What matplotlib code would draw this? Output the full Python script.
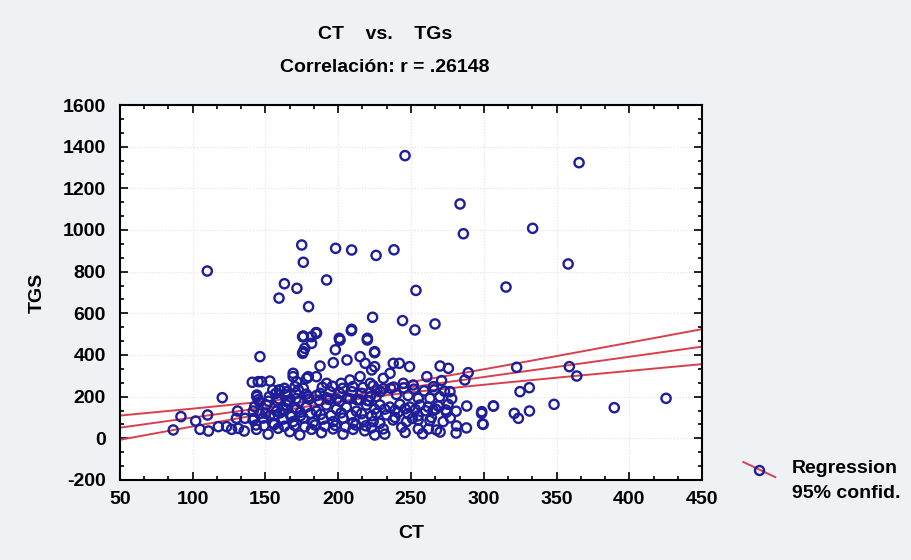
import numpy as np
import matplotlib
matplotlib.use('Agg')
from matplotlib import pyplot as plt
from matplotlib.ticker import MultipleLocator, AutoMinorLocator
from matplotlib.lines import Line2D

plt.rcParams['font.family'] = ['Liberation Sans', 'DejaVu Sans']
plt.rcParams['axes.unicode_minus'] = False

# CT (x) and TGS (y) values
ct = [110, 174.9, 176, 198.2, 209.2, 226, 238.3, 163, 171.6, 192, 159.3,
      245.9, 365.5, 283.7, 333.6, 286, 358, 253.4, 315.3,
      179.6, 223.6, 244.2, 209.2, 184.7, 176, 200.7, 220, 266.5, 252.7, 201.2,
      146.2, 140.9, 145, 144, 120.3, 91.9, 110.2, 102, 130.8, 141.6, 86.6, 105,
      110.8, 117.6, 123.3, 126.7, 131.3, 135.4, 130, 135.9, 143.5, 142,
      147.3, 153, 152.6, 159.5, 169, 170.3, 178.3, 176, 175.5, 181.7, 177,
      175.5, 185,
      176, 185, 181.7, 176, 209, 201, 220, 198, 196.6, 206, 215, 218.5, 225,
      223, 187.5, 185, 179.4, 169, 171.4, 192, 202, 208, 215, 222,
      144, 160, 164.5, 172.6, 179.4, 187.5, 194.3, 201, 209.3, 216, 222, 226.6,
      142.6, 150.7, 157.5, 164.4, 171.3, 178.1, 185, 191.9, 198.8, 205.6,
      212.5, 219.4, 225.1,
      141.5, 148.4, 155.2, 162.1, 169, 175.9, 182.7, 189.6, 196.5, 203.3,
      210.2, 217.1, 224,
      143.8, 151.8, 158.7, 166.7, 173.6, 181.6, 188.5, 196.5, 203.3, 210.2,
      218.2, 225.1,
      146, 153, 160, 167, 174, 181, 188, 195, 202, 209, 216, 223,
      145, 152, 159, 166, 173, 180, 187, 194, 201, 208, 215, 221,
      150, 156, 162, 168, 174, 146, 158, 165, 171, 155, 163,
      225, 249, 270, 275.7, 237.8, 242, 225, 235.6, 231, 244.7, 251.5, 260.9,
      271, 287, 289.3, 265.4, 276.8, 229, 236, 255, 263, 269.8, 278, 226, 240,
      248,
      228.6, 235.4, 242.3, 249.2, 256.1, 261.8, 268.7, 275.5,
      226.3, 233.2, 241.2, 248, 254.9, 265.2, 274.4,
      228.6, 237.7, 246.9, 254.9, 263, 272.1, 281.3, 288.1,
      243.6, 255, 262, 267.5, 299.6, 230.9, 222.8,
      288.3, 298.6, 306.7, 232, 246, 258, 270, 281, 239, 251, 264, 277,
      322.6, 358.8, 363.9, 331.3, 324.9, 306.6, 298.5, 299.2, 321, 323.8,
      331.4, 348.3, 389.7, 425.3,
      149, 156, 163, 170, 177, 184, 191, 198, 205, 212, 219,
      232, 239, 246, 253, 260, 267, 274, 281,
      189, 196, 203, 210, 217, 224, 231, 238, 245, 252, 259, 266, 273,
      157, 164, 171, 178, 185, 192, 199, 206, 213, 220]
tgs = [803, 928, 845, 912, 904, 878, 905, 742, 720, 760, 673,
       1357, 1323, 1125, 1008, 982, 837, 710, 726,
       632, 581, 565, 523, 507, 491, 480, 480, 549, 520, 472,
       392, 269, 272, 200, 195, 104, 112, 83, 131, 131, 40, 43,
       35, 56, 56, 43, 48, 35, 96, 96, 64, 96,
       272, 275, 200, 232, 296, 248, 288, 240, 488, 488, 432,
       408, 507,
       488, 504, 456, 416, 517, 472, 472, 425, 363, 376, 392, 360, 416,
       328, 347, 296, 296, 312, 272, 264, 264, 280, 296, 264,
       208, 232, 224, 232, 200, 216, 224, 216, 224, 216, 200, 232,
       152, 160, 130, 160, 140, 150, 130, 160, 140, 150,
       130, 160, 140,
       88, 97, 73, 92, 80, 97, 75, 92, 80, 97,
       75, 88, 80,
       43, 20, 48, 32, 16, 43, 27, 45, 20, 43,
       36, 16,
       118, 110, 122, 112, 108, 120, 115, 110, 122, 112, 118, 108,
       185, 178, 190, 182, 176, 188, 180, 186, 178, 190, 184, 180,
       120, 110, 140, 105, 125, 175, 180, 175, 190, 232, 240,
       411, 344, 347, 336, 360, 360, 344, 312, 288, 264, 256, 296,
       277, 280, 315, 248, 224, 224, 240, 192, 192, 200, 190, 200, 210,
       205,
       160, 150, 163, 150, 160, 150, 155, 163,
       120, 112, 125, 118, 108, 135, 125,
       72, 88, 80, 88, 85, 80, 60, 50,
       53, 45, 45, 40, 67, 45, 50,
       155, 128, 155, 20, 28, 22, 30, 25, 100, 95, 100, 98,
       341, 344, 299, 243, 224, 155, 120, 69, 120, 96,
       131, 163, 147, 192,
       60, 66, 58, 62, 55, 64, 58, 62, 55, 64, 60,
       140, 135, 142, 138, 132, 140, 136, 130,
       245, 250, 240, 248, 244, 252, 238, 246, 242, 236, 228, 232, 226,
       215, 210, 218, 212, 205, 195, 188, 192, 185, 182]

# regression line and 95% band
intercept = 2.4
slope = 0.9725
band_min = 21.0
band_center = 210.0
band_growth = 0.1148

x_min, x_max = 50, 450
y_min, y_max = -200, 1600

fig = plt.figure(figsize=(9.11, 5.6), dpi=100, facecolor='#eef2f5')
ax = fig.add_axes([0.1317, 0.1429, 0.6389, 0.6696])
ax.set_facecolor('white')

xs = np.linspace(x_min, x_max, 200)
fit = intercept + slope * xs
hw = np.sqrt(band_min ** 2 + band_growth * (xs - band_center) ** 2)
for yy in (fit, fit + hw, fit - hw):
    ax.plot(xs, yy, color='#d8404e', linewidth=1.4, zorder=2)

ax.scatter(ct, tgs, s=44, facecolors='none', edgecolors='#1e1e9a',
           linewidths=1.7, zorder=3)

ax.set_xlim(x_min, x_max)
ax.set_ylim(y_min, y_max)
ax.xaxis.set_major_locator(MultipleLocator(50))
ax.yaxis.set_major_locator(MultipleLocator(200))
ax.xaxis.set_minor_locator(AutoMinorLocator(3))
ax.yaxis.set_minor_locator(AutoMinorLocator(3))
ax.tick_params(which='both', direction='in', top=True, right=True, width=1.2)
ax.tick_params(which='major', length=6, labelsize=14)
ax.tick_params(axis='x', which='major', pad=8)
ax.tick_params(axis='y', which='major', pad=10)
ax.tick_params(which='minor', length=3)
for lab in ax.get_xticklabels() + ax.get_yticklabels():
    lab.set_fontweight('bold')
for sp in ax.spines.values():
    sp.set_linewidth(1.5)
ax.grid(which='major', color='#e2e2e2', linestyle=':', linewidth=0.8)

ax.set_xlabel('CT', fontsize=14, fontweight='bold', labelpad=12)
ax.set_ylabel('TGS', fontsize=14, fontweight='bold', labelpad=12)

fig.text(0.4226, 0.938, 'CT    vs.    TGs', ha='center', va='center',
         fontsize=14, fontweight='bold')
fig.text(0.4226, 0.879, 'Correlación: r = .26148', ha='center', va='center',
         fontsize=14, fontweight='bold')

# legend drawn by hand: diagonal red line with a circle on it
fig.add_artist(Line2D([0.816, 0.851], [0.175, 0.148], color='#d8404e',
                      linewidth=1.4, transform=fig.transFigure))
fig.add_artist(Line2D([0.8335], [0.1615], marker='o', markersize=6.5,
                      markerfacecolor='none', markeredgecolor='#1e1e9a',
                      markeredgewidth=1.7, transform=fig.transFigure))
fig.text(0.869, 0.164, 'Regression', ha='left', va='center',
         fontsize=14, fontweight='bold')
fig.text(0.869, 0.119, '95% confid.', ha='left', va='center',
         fontsize=14, fontweight='bold')

fig.savefig('out.png', dpi=100, facecolor=fig.get_facecolor())
